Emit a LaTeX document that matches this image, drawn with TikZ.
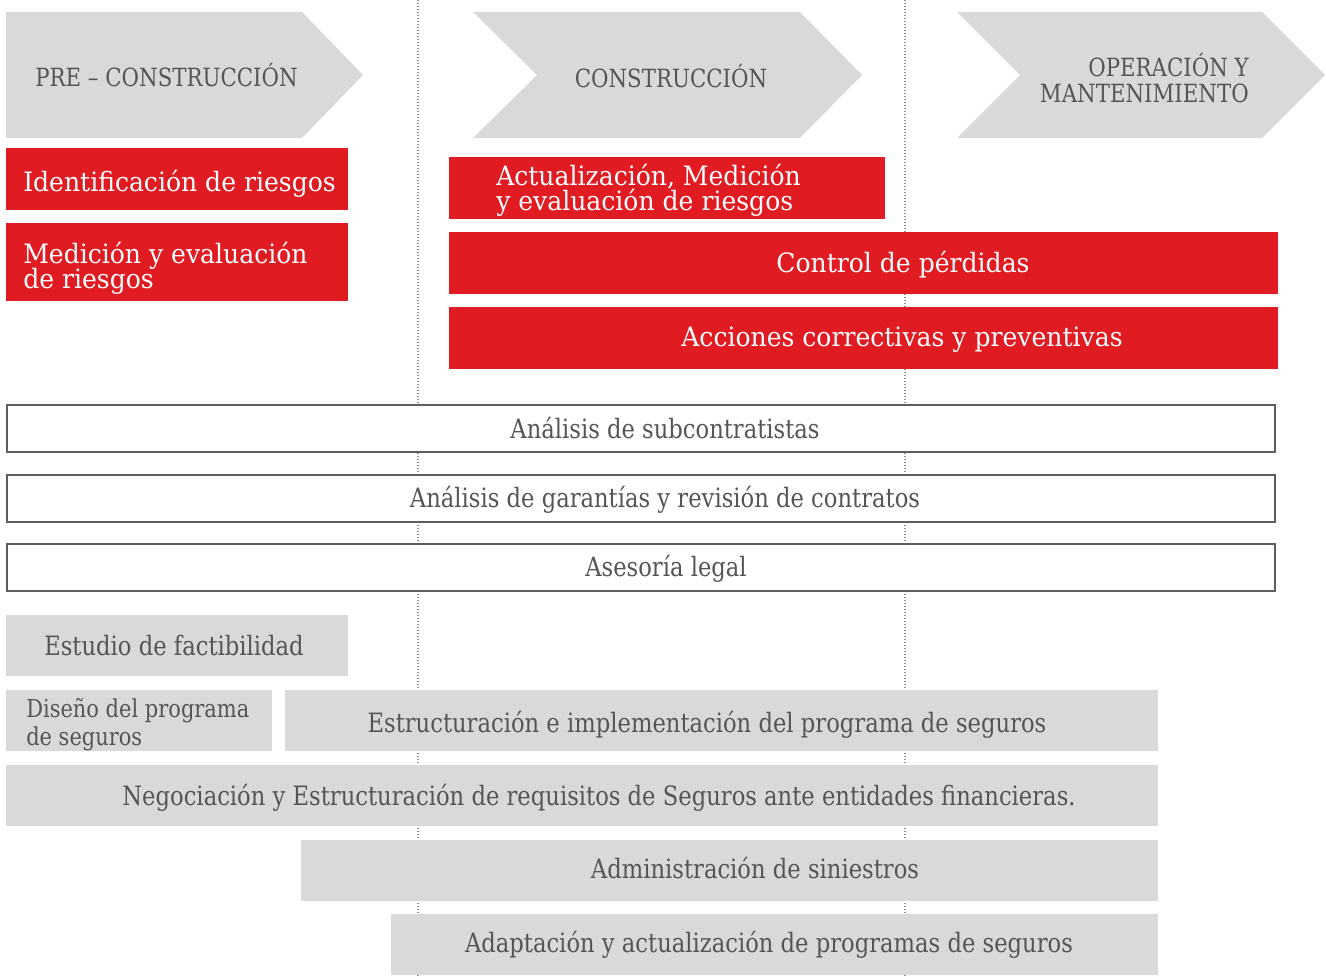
\documentclass[tikz,border=0pt]{standalone}
\usepackage{fontspec}
\setmainfont{DejaVu Serif}[FakeStretch=0.85]
\newfontfamily\redfont{DejaVu Serif}[FakeStretch=0.94]
\newfontfamily\greyfont{DejaVu Serif}[FakeStretch=0.85]
\setlength\lineskiplimit{-20pt}
\definecolor{cred}{HTML}{E11B22}
\definecolor{cgrey}{HTML}{D9D9D9}
\definecolor{ctext}{HTML}{555555}
\definecolor{cline}{HTML}{5E5E5E}
\definecolor{cdot}{HTML}{8C8C8C}
\newcommand\bxnode[6]{\node[#6, anchor=north west, inner sep=0pt, minimum width={(#4-#2)*0.75pt}, minimum height={(#5-#3)*0.75pt}] (#1) at (#2,#3) {};}
\tikzset{
  redbox/.style={fill=cred, draw=none},
  greybox/.style={fill=cgrey, draw=none},
  outbox/.style={fill=white, draw=cline, line width=1.5pt},
  chevron/.style={fill=cgrey, draw=none},
  hdr/.style={text=ctext, inner sep=0pt, font=\fontsize{18.8pt}{20pt}\selectfont},
  redtxt/.style={text=white, inner sep=0pt, font=\redfont\fontsize{20pt}{19pt}\selectfont},
  greytxt/.style={text=ctext, inner sep=0pt, font=\greyfont\fontsize{20pt}{21pt}\selectfont},
  dotline/.style={draw=cdot, line width=1.5pt, dash pattern=on 1.1pt off 1.15pt},
}
\begin{document}
\begin{tikzpicture}[x=0.75pt,y=-0.75pt]
\useasboundingbox (0,0) rectangle (1326,977);
% dotted phase separators
\coordinate (d1t) at (418,0);
\coordinate (d1b) at (418,977);
\coordinate (d2t) at (905,0);
\coordinate (d2b) at (905,977);
\draw[dotline] (d1t) -- (d1b);
\draw[dotline] (d2t) -- (d2b);
% chevrons
\fill[chevron] (6,12) -- (302,12) -- (363,75) -- (302,138) -- (6,138) -- cycle;
\fill[chevron] (473,12) -- (800,12) -- (862,75) -- (800,138) -- (473,138) -- (537,75) -- cycle;
\fill[chevron] (957,12) -- (1262,12) -- (1325,75) -- (1262,138) -- (957,138) -- (1020,75) -- cycle;
\node[hdr, anchor=base west] (tpre) at (35,87) {PRE – CONSTRUCCIÓN};
\node[hdr, anchor=base] (tcons) at (671,88) {CONSTRUCCIÓN};
\node[hdr, anchor=east, align=right] (toper) at (1249,78) {OPERACIÓN Y\\MANTENIMIENTO};
% red boxes
\bxnode{bident}{6}{148}{348}{210}{redbox}
\bxnode{bmed}{6}{223}{348}{301}{redbox}
\bxnode{bact}{449}{157}{885}{219}{redbox}
\bxnode{bctrl}{449}{232}{1278}{294}{redbox}
\bxnode{bacc}{449}{307}{1278}{369}{redbox}
\node[redtxt, anchor=base west] (tident) at (23,191) {Identificación de riesgos};
\node[redtxt, anchor=west, align=left] (tmed) at (23,268) {Medición y evaluación\\de riesgos};
\node[redtxt, anchor=west, align=left] (tact) at (496,190) {Actualización, Medición\\y evaluación de riesgos};
\node[redtxt, anchor=base] (tctrl) at (903,272) {Control de pérdidas};
\node[redtxt, anchor=base] (tacc) at (902,346) {Acciones correctivas y preventivas};
% outlined boxes
\bxnode{bsub}{6}{404}{1274}{451}{outbox}
\bxnode{bgar}{6}{474}{1274}{521}{outbox}
\bxnode{bleg}{6}{543}{1274}{590}{outbox}
\node[greytxt, anchor=base] (tsub) at (665,438) {Análisis de subcontratistas};
\node[greytxt, anchor=base] (tgar) at (665,507) {Análisis de garantías y revisión de contratos};
\node[greytxt, anchor=base] (tleg) at (666,576) {Asesoría legal};
% grey boxes
\bxnode{best}{6}{615}{348}{676}{greybox}
\bxnode{bdis}{6}{690}{272}{751}{greybox}
\bxnode{bestr}{285}{690}{1158}{751}{greybox}
\bxnode{bneg}{6}{765}{1158}{826}{greybox}
\bxnode{badm}{301}{840}{1158}{901}{greybox}
\bxnode{bada}{391}{914}{1158}{975}{greybox}
\node[greytxt, anchor=base] (test) at (174,655) {Estudio de factibilidad};
\node[greytxt, anchor=west, align=left, font=\greyfont\fontsize{18.5pt}{21pt}\selectfont] (tdis) at (26,725) {Diseño del programa\\de seguros};
\node[greytxt, anchor=base] (testr) at (707,732) {Estructuración e implementación del programa de seguros};
\node[greytxt, anchor=base] (tneg) at (599,805) {Negociación y Estructuración de requisitos de Seguros ante entidades financieras.};
\node[greytxt, anchor=base] (tadm) at (755,878) {Administración de siniestros};
\node[greytxt, anchor=base] (tada) at (769,952) {Adaptación y actualización de programas de seguros};
\end{tikzpicture}
\end{document}
